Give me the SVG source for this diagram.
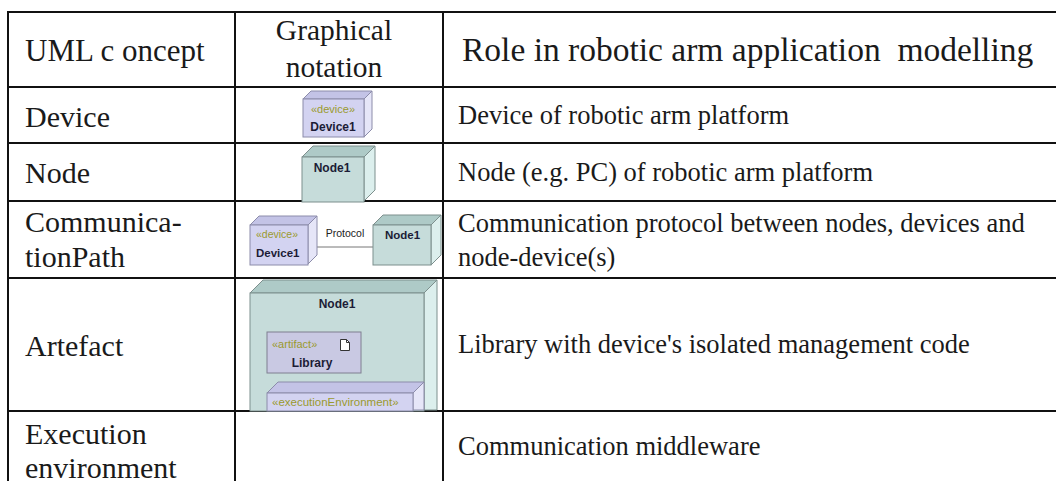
<svg xmlns="http://www.w3.org/2000/svg" width="1056" height="481" viewBox="0 0 1056 481">
  <style>
    .grid { stroke: #111; stroke-width: 2; fill: none; }
    .serif { font-family: "Liberation Serif", serif; fill: #1a1a1a; }
    .hd { font-size: 30px; }
    .c1 { font-size: 30px; }
    .c3 { font-size: 26.5px; }
    .st { font-family: "Liberation Sans", sans-serif; font-size: 11px; fill: #9a9a2e; }
    .nm { font-family: "Liberation Sans", sans-serif; font-size: 12px; font-weight: bold; fill: #1c1c36; }
    .lbl { font-family: "Liberation Sans", sans-serif; font-size: 10.5px; fill: #222; }
    .devF { fill: #d3d3f1; stroke: #8c8caa; stroke-width: 1; }
    .devT { fill: #c3c3e6; stroke: #8c8caa; stroke-width: 1; }
    .devS { fill: #e6e6f8; stroke: #8c8caa; stroke-width: 1; }
    .nodF { fill: #c6dcda; stroke: #7d8f8d; stroke-width: 1; }
    .nodT { fill: #aecac7; stroke: #7d8f8d; stroke-width: 1; }
    .nodS { fill: #dcefed; stroke: #7d8f8d; stroke-width: 1; }
    .art { fill: #c9c9e3; stroke: #7f7f90; stroke-width: 1; }
  </style>

  <rect width="1056" height="481" fill="#fff"/>

  <!-- table rules -->
  <g id="table-grid" class="grid">
    <line x1="8" y1="12" x2="1056" y2="12"/>
    <line x1="8" y1="87" x2="1056" y2="87"/>
    <line x1="8" y1="143" x2="1056" y2="143"/>
    <line x1="8" y1="201" x2="1056" y2="201"/>
    <line x1="8" y1="278" x2="1056" y2="278"/>
    <line x1="8" y1="411" x2="1056" y2="411"/>
    <line x1="8" y1="11" x2="8" y2="481"/>
    <line x1="235" y1="11" x2="235" y2="481"/>
    <line x1="443" y1="11" x2="443" y2="481"/>
  </g>

  <!-- header row -->
  <g id="header" class="serif">
    <text x="25" y="61" style="font-size:31px" xml:space="preserve">UML c oncept</text>
    <text x="334" y="40" text-anchor="middle" style="font-size:29.5px">Graphical</text>
    <text x="334" y="77" text-anchor="middle" style="font-size:29.5px">notation</text>
    <text x="462" y="61" style="font-size:33.5px" xml:space="preserve">Role in robotic arm application  modelling</text>
  </g>

  <!-- row: Device -->
  <g id="row-device">
    <text class="serif c1" x="25" y="127">Device</text>
    <g id="icon-device">
      <rect x="300" y="88" width="76" height="53" fill="#fff"/>
      <polygon class="devT" points="303,99 311,91 372,91 364,99"/>
      <polygon class="devS" points="364,99 372,91 372,129 364,137"/>
      <rect class="devF" x="303" y="99" width="61" height="38"/>
      <text class="st" x="333" y="113" text-anchor="middle">«device»</text>
      <text class="nm" x="333" y="131" text-anchor="middle">Device1</text>
    </g>
    <text class="serif c3" x="458" y="124">Device of robotic arm platform</text>
  </g>

  <!-- row: Node -->
  <g id="row-node">
    <text class="serif c1" x="25" y="183">Node</text>
    <g id="icon-node">
      <polygon class="nodT" points="302,157 313,146 375,146 364,157"/>
      <polygon class="nodS" points="364,157 375,146 375,190 364,201"/>
      <rect class="nodF" x="302" y="157" width="62" height="45"/>
      <text class="nm" x="332" y="172" text-anchor="middle">Node1</text>
    </g>
    <text class="serif c3" x="458" y="181">Node (e.g. PC) of robotic arm platform</text>
  </g>

  <!-- row: CommunicationPath -->
  <g id="row-commpath">
    <text class="serif c1" x="25" y="232">Communica-</text>
    <text class="serif c1" x="25" y="267">tionPath</text>
    <g id="icon-commpath">
      <rect x="244" y="206" width="196" height="60" fill="#fff"/>
      <!-- connector between the two boxes -->
      <g id="connector-protocol">
        <line x1="308" y1="247" x2="373" y2="247" stroke="#777" stroke-width="1"/>
        <text class="lbl" x="345" y="237" text-anchor="middle">Protocol</text>
      </g>
      <g id="cp-device">
        <polygon class="devT" points="250,225 259,216 317,216 308,225"/>
        <polygon class="devS" points="308,225 317,216 317,255 308,264"/>
        <rect class="devF" x="250" y="225" width="58" height="40"/>
        <text class="st" x="256" y="238" style="font-size:10.5px">«device»</text>
        <text class="nm" x="256" y="257" style="font-size:11.5px">Device1</text>
      </g>
      <g id="cp-node">
        <polygon class="nodT" points="373,225 383,215 441,215 431,225"/>
        <polygon class="nodS" points="431,225 441,215 441,255 431,265"/>
        <rect class="nodF" x="373" y="225" width="58" height="40"/>
        <text class="nm" x="385" y="239" style="font-size:11.5px">Node1</text>
      </g>
    </g>
    <text class="serif c3" x="458" y="232">Communication protocol between nodes, devices and</text>
    <text class="serif c3" x="458" y="266">node-device(s)</text>
  </g>

  <!-- row: Artefact -->
  <g id="row-artefact">
    <text class="serif c1" x="25" y="356">Artefact</text>
    <g id="icon-artefact">
      <rect x="247" y="279" width="192" height="131" fill="#fff"/>
      <polygon class="nodT" points="250,293 263,280 437,280 424,293"/>
      <polygon class="nodS" points="424,293 437,280 437,410 424,410"/>
      <rect class="nodF" x="250" y="293" width="174" height="118"/>
      <text class="nm" x="337" y="308" text-anchor="middle">Node1</text>
      <g id="artifact-library">
        <rect class="art" x="267" y="332" width="94" height="41"/>
        <text class="st" x="272" y="348">«artifact»</text>
        <path d="M340.5,339.5 h6 l3,3 v8 h-9 z" fill="#fff" stroke="#333" stroke-width="1"/>
        <path d="M346.5,339.5 v3 h3" fill="none" stroke="#333" stroke-width="1"/>
        <text class="nm" x="312" y="367" text-anchor="middle">Library</text>
      </g>
      <g id="exec-env">
        <polygon class="devT" points="267,393 278,382 424,382 413,393"/>
        <polygon class="devS" points="413,393 424,382 424,410 413,410"/>
        <rect class="devF" x="267" y="393" width="146" height="18"/>
        <text class="st" x="272" y="406" style="font-size:11.5px">«executionEnvironment»</text>
      </g>
    </g>
    <text class="serif c3" x="458" y="353">Library with device's isolated management code</text>
  </g>

  <!-- row: Execution environment -->
  <g id="row-execenv">
    <text class="serif c1" x="25" y="444">Execution</text>
    <text class="serif c1" x="25" y="478">environment</text>
    <text class="serif c3" x="458" y="455">Communication middleware</text>
  </g>
</svg>
